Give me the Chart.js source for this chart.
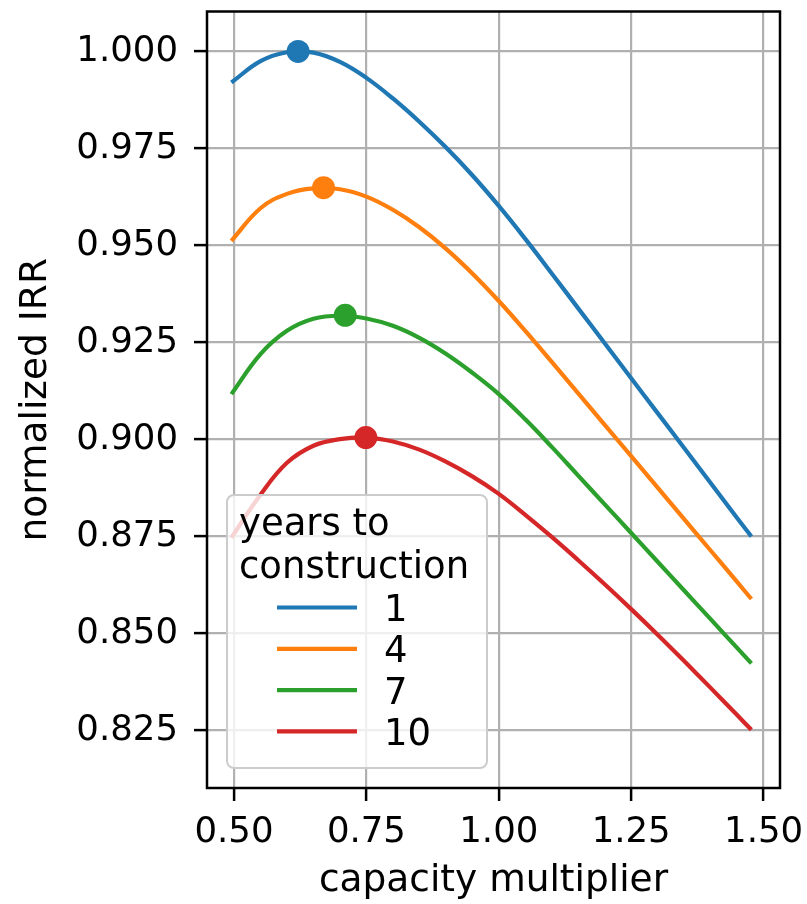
<!DOCTYPE html>
<html>
<head>
<meta charset="utf-8">
<title>normalized IRR vs capacity multiplier</title>
<script src="https://cdn.jsdelivr.net/npm/chart.js@4.4.1/dist/chart.umd.min.js"></script>
<style>
  html, body { margin: 0; padding: 0; background: #fff; }
  #wrap { width: 807px; height: 904px; position: relative; }
</style>
</head>
<body>
<div id="wrap"><canvas id="irrChart"></canvas></div>
<script>
'use strict';

// data
var capacity = [0.495, 0.55, 0.60, 0.65, 0.70, 0.75, 0.80, 0.85, 0.90, 0.95, 1.00,
                1.05, 1.10, 1.15, 1.20, 1.25, 1.30, 1.35, 1.40, 1.45, 1.477];
var years = ['1', '4', '7', '10'];
var irrYear1 = [0.9920, 0.9975, 0.9998, 0.9997, 0.9973, 0.9932, 0.9879, 0.9819, 0.9753, 0.9681, 0.9602,
                0.9517, 0.9428, 0.9338, 0.9248, 0.9158, 0.9068, 0.8978, 0.8888, 0.8798, 0.8750];
var irrYear4 = [0.9512, 0.9596, 0.9633, 0.9647, 0.9645, 0.9626, 0.9592, 0.9547, 0.9492, 0.9428, 0.9357,
                0.9280, 0.9200, 0.9119, 0.9038, 0.8957, 0.8876, 0.8795, 0.8714, 0.8633, 0.8589];
var irrYear7 = [0.9117, 0.9220, 0.9280, 0.9311, 0.9319, 0.9312, 0.9293, 0.9262, 0.9221, 0.9172, 0.9117,
                0.9052, 0.8981, 0.8907, 0.8833, 0.8759, 0.8685, 0.8611, 0.8537, 0.8463, 0.8423];
var irrYear10 = [0.8747, 0.8858, 0.8940, 0.8984, 0.9001, 0.9005, 0.8995, 0.8974, 0.8943, 0.8905, 0.8860,
                 0.8806, 0.8749, 0.8689, 0.8627, 0.8563, 0.8497, 0.8429, 0.8360, 0.8290, 0.8252];
var peakCapacity = [0.621, 0.669, 0.710, 0.749];
var peakIrr = [1.000, 0.9649, 0.9320, 0.9005];

var xTicks = [0.50, 0.75, 1.00, 1.25, 1.50];
var yTicks = [0.825, 0.850, 0.875, 0.900, 0.925, 0.950, 0.975, 1.000];
var legendTitle = ['years to', 'construction'];

var colors = ['#1f77b4', '#ff7f0e', '#2ca02c', '#d62728'];
var FONT = 'DejaVu Sans';

Chart.defaults.font.family = FONT;
Chart.defaults.font.size = 35.5;
Chart.defaults.color = '#000';

function toPoints(xs, ys) {
  return xs.map(function (x, i) { return { x: x, y: ys[i] }; });
}

var series = [irrYear1, irrYear4, irrYear7, irrYear10];
var datasets = series.map(function (ys, i) {
  return {
    label: years[i],
    data: toPoints(capacity, ys),
    borderColor: colors[i],
    backgroundColor: colors[i],
    borderWidth: 4.2,
    pointRadius: 0,
    tension: 0.4,
    fill: false
  };
});
datasets.push({
  label: 'peak',
  data: toPoints(peakCapacity, peakIrr),
  showLine: false,
  pointRadius: 11.5,
  pointHoverRadius: 11.5,
  pointBorderWidth: 0,
  pointBackgroundColor: colors,
  order: -1
});

// axes frame + matplotlib style legend box
var frameAndLegend = {
  id: 'frameAndLegend',
  afterDatasetsDraw: function (chart) {
    var ctx = chart.ctx;
    var a = chart.chartArea;
    ctx.save();
    ctx.strokeStyle = '#000';
    ctx.lineWidth = 2.5;
    ctx.strokeRect(a.left, a.top, a.right - a.left, a.bottom - a.top);

    var bw = 260, bh = 273;
    var bx = a.left + 20, by = a.bottom - 20 - bh;
    ctx.beginPath();
    if (ctx.roundRect) ctx.roundRect(bx, by, bw, bh, 7); else ctx.rect(bx, by, bw, bh);
    ctx.fillStyle = 'rgba(255,255,255,0.8)';
    ctx.fill();
    ctx.strokeStyle = '#cccccc';
    ctx.lineWidth = 2;
    ctx.stroke();

    ctx.font = '37px "' + FONT + '"';
    ctx.fillStyle = '#000';
    ctx.textBaseline = 'alphabetic';
    ctx.textAlign = 'left';
    legendTitle.forEach(function (t, i) {
      ctx.fillText(t, bx + 12, by + 40 + i * 42.5);
    });

    for (var i = 0; i < years.length; i++) {
      var ly = by + 112.5 + i * 41.3;
      ctx.beginPath();
      ctx.moveTo(bx + 50, ly);
      ctx.lineTo(bx + 130, ly);
      ctx.strokeStyle = colors[i];
      ctx.lineWidth = 4.2;
      ctx.stroke();
      ctx.fillStyle = '#000';
      ctx.fillText(chart.data.datasets[i].label, bx + 157, ly + 13.5);
    }
    ctx.restore();
  }
};

var ctx = document.getElementById('irrChart').getContext('2d');
var irrChart = new Chart(ctx, {
  type: 'line',
  data: { datasets: datasets },
  options: {
    responsive: true,
    maintainAspectRatio: false,
    animation: false,
    layout: { padding: { top: 8, right: 27, bottom: 0, left: 0 } },
    plugins: {
      legend: { display: false },
      tooltip: { enabled: false }
    },
    scales: {
      x: {
        type: 'linear',
        min: 0.449,
        max: 1.531,
        border: { display: false },
        grid: { color: '#b0b0b0', lineWidth: 2.2, drawTicks: true, tickLength: 13, tickColor: '#000', tickWidth: 2.5 },
        ticks: { padding: 10, autoSkip: false, maxRotation: 0, callback: function (v) { return v.toFixed(2); } },
        afterBuildTicks: function (axis) { axis.ticks = xTicks.map(function (v) { return { value: v }; }); },
        afterFit: function (axis) { axis.height = 116; axis.paddingLeft = 0; axis.paddingRight = 0; },
        title: { display: true, text: 'capacity multiplier', font: { size: 37.5 }, padding: { top: 0, bottom: 0 } }
      },
      y: {
        type: 'linear',
        min: 0.8102,
        max: 1.0103,
        border: { display: false },
        grid: { color: '#b0b0b0', lineWidth: 2.2, drawTicks: true, tickLength: 13, tickColor: '#000', tickWidth: 2.5 },
        ticks: { padding: 16, autoSkip: false, callback: function (v) { return v.toFixed(3); } },
        afterBuildTicks: function (axis) { axis.ticks = yTicks.map(function (v) { return { value: v }; }); },
        afterFit: function (axis) { axis.width = 207; axis.paddingTop = 0; axis.paddingBottom = 0; },
        title: { display: true, text: 'normalized IRR', font: { size: 37.5 }, padding: { top: 13.5, bottom: 0 } }
      }
    }
  },
  plugins: [frameAndLegend]
});
</script>
</body>
</html>
